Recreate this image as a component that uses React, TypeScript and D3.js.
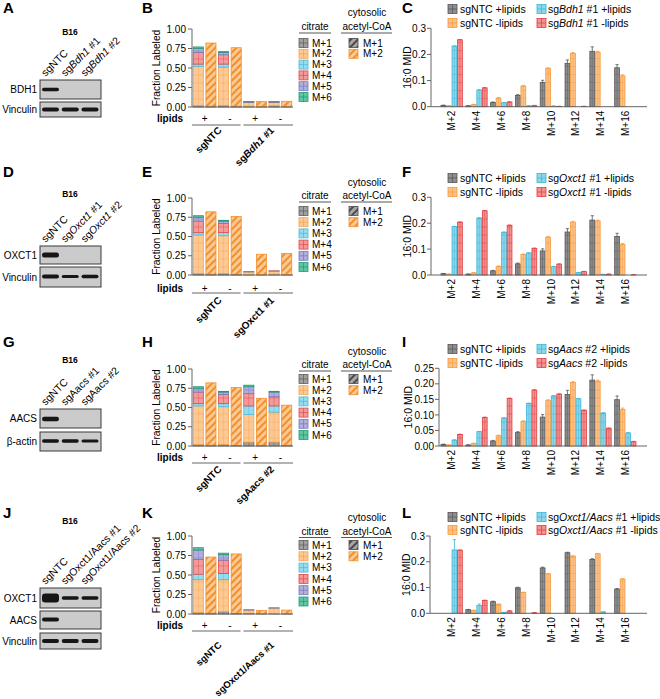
import React from 'react';
import * as d3 from 'd3';

const FONT = "'Liberation Sans', Arial, Helvetica, sans-serif";

// ---------------- data ----------------
const citrateIsotopologues = ['M+1', 'M+2', 'M+3', 'M+4', 'M+5', 'M+6'];
const acetylIsotopologues = ['M+1', 'M+2'];
const lipidsConditions = ['+', '-', '+', '-'];
const fractionTicks = [0, 0.25, 0.5, 0.75, 1.0];
const midIsotopologues = ['M+2', 'M+4', 'M+6', 'M+8', 'M+10', 'M+12', 'M+14', 'M+16'];
const midTicks03 = [0, 0.1, 0.2, 0.3];
const midTicks025 = [0, 0.05, 0.1, 0.15, 0.2, 0.25];

// stacked citrate (M+1..M+6) per condition: sgNTC+, sgNTC-, sgX+, sgX-
const citrateB = [
  [0.02, 0.5, 0.03, 0.15, 0.05, 0.02],
  [0.02, 0.49, 0.04, 0.12, 0.03, 0.01],
  [0.01, 0.05, 0.003, 0.002, 0.001, 0.001],
  [0.015, 0.045, 0.003, 0.002, 0.001, 0.001],
];
const acetylB = [[0.01, 0.81], [0.01, 0.75], [0.005, 0.065], [0.005, 0.068]];

const citrateE = [
  [0.02, 0.5, 0.03, 0.15, 0.05, 0.02],
  [0.02, 0.49, 0.04, 0.12, 0.03, 0.01],
  [0.005, 0.035, 0.002, 0.001, 0.0, 0.0],
  [0.01, 0.04, 0.002, 0.001, 0.0, 0.0],
];
const acetylE = [[0.01, 0.81], [0.01, 0.75], [0.005, 0.265], [0.005, 0.275]];

const citrateH = [
  [0.02, 0.5, 0.03, 0.15, 0.05, 0.02],
  [0.02, 0.49, 0.04, 0.12, 0.03, 0.01],
  [0.05, 0.36, 0.11, 0.16, 0.09, 0.02],
  [0.05, 0.39, 0.08, 0.12, 0.06, 0.01],
];
const acetylH = [[0.01, 0.81], [0.01, 0.75], [0.01, 0.61], [0.01, 0.52]];

const citrateK = [
  [0.02, 0.42, 0.07, 0.19, 0.12, 0.03],
  [0.03, 0.41, 0.08, 0.17, 0.07, 0.02],
  [0.01, 0.04, 0.002, 0.001, 0.0, 0.0],
  [0.005, 0.07, 0.002, 0.001, 0.0, 0.0],
];
const acetylK = [[0.01, 0.72], [0.01, 0.76], [0.005, 0.04], [0.005, 0.045]];

// 16:0 MID
const ntcPlusMID = [0.005, 0.003, 0.016, 0.043, 0.093, 0.166, 0.212, 0.149];
const ntcPlusErr = [0.001, 0.001, 0.002, 0.003, 0.008, 0.013, 0.017, 0.012];
const ntcMinusMID = [0.003, 0.008, 0.033, 0.079, 0.146, 0.204, 0.209, 0.118];
const ntcMinusErr = [0.001, 0.001, 0.002, 0.002, 0.003, 0.003, 0.003, 0.004];
const bdh1PlusMID = [0.232, 0.064, 0.015, 0.003, 0.002, 0.0, 0.0, 0.0];
const bdh1MinusMID = [0.256, 0.072, 0.018, 0.004, 0.001, 0.001, 0.0, 0.0];
const oxct1PlusMID = [0.187, 0.22, 0.165, 0.085, 0.032, 0.009, 0.002, 0.0];
const oxct1MinusMID = [0.204, 0.248, 0.192, 0.103, 0.042, 0.013, 0.003, 0.001];
const aacsPlusMID = [0.019, 0.046, 0.09, 0.137, 0.161, 0.152, 0.106, 0.042];
const aacsMinusMID = [0.037, 0.092, 0.153, 0.18, 0.167, 0.115, 0.057, 0.014];
const smallErr = [0.001, 0.001, 0.001, 0.001, 0.001, 0.001, 0.001, 0.001];
const ntcPlusMID_L = [0.0, 0.014, 0.045, 0.099, 0.176, 0.235, 0.209, 0.094];
const ntcPlusErr_L = [0.0, 0.001, 0.002, 0.002, 0.003, 0.002, 0.003, 0.002];
const ntcMinusMID_L = [0.0, 0.011, 0.035, 0.081, 0.153, 0.222, 0.231, 0.133];
const dkoPlusMID = [0.246, 0.03, 0.003, 0.0, 0.0, 0.0, 0.005, 0.0];
const dkoPlusErr = [0.04, 0.006, 0.001, 0.0, 0.0, 0.0, 0.001, 0.0];
const dkoMinusMID = [0.245, 0.05, 0.009, 0.002, 0.0, 0.0, 0.0, 0.0];

// western blots: band thickness per lane (0 = absent)
const lanesA = ['sgNTC', 'sg*Bdh1* #1', 'sg*Bdh1* #2'];
const lanesD = ['sgNTC', 'sg*Oxct1* #1', 'sg*Oxct1* #2'];
const lanesG = ['sgNTC', 'sgAacs #1', 'sgAacs #2'];
const lanesJ = ['sgNTC', 'sgOxct1/Aacs #1', 'sgOxct1/Aacs #2'];
const bdh1Bands = [0.9, 0, 0];
const vinculinBandsA = [1, 1, 1];
const oxct1BandsD = [1.2, 0, 0];
const vinculinBandsD = [1, 0.8, 0.9];
const aacsBandsG = [1.1, 0, 0];
const actinBandsG = [0.9, 0.85, 0.75];
const oxct1BandsJ = [2.4, 0.9, 0.9];
const aacsBandsJ = [1, 0, 0];
const vinculinBandsJ = [1, 1, 1];

// ---------------- styles ----------------
const STACK = [
  { fill: '#a0a0a0', line: '#5c5c5c' },
  { fill: '#fcc893', line: '#f6a552' },
  { fill: '#97dbee', line: '#45bde0' },
  { fill: '#f39b9b', line: '#e24848' },
  { fill: '#b0aedb', line: '#7a78bf' },
  { fill: '#5fc6a3', line: '#239a74' },
];
const HATCH = [
  { fill: '#a6a6a6', line: '#4a4a4a' },
  { fill: '#fcc893', line: '#f0902c' },
];
const MIDC = [
  { fill: '#8e8e8e', line: '#555555' },
  { fill: '#fcc089', line: '#f59b3b' },
  { fill: '#8dd6ea', line: '#3bb5d6' },
  { fill: '#f29292', line: '#e03d3d' },
];
const AXIS = '#666';

const rich = (s: string) =>
  s.split('*').map((p, i) => (
    <tspan key={i} fontStyle={i % 2 ? 'italic' : 'normal'}>{p}</tspan>
  ));

function GridBar({ x, y, w, h, base, c, step = 8 }: any) {
  if (!(h > 0)) return null;
  const hl: number[] = [];
  for (let yy = base - step; yy > y + 0.8; yy -= step) if (yy < y + h - 0.8) hl.push(yy);
  return (
    <g>
      <rect x={x} y={y} width={w} height={h} fill={c.fill} stroke={c.line} strokeWidth={0.8} />
      {h > 1.5 && (
        <line x1={x + w / 2} x2={x + w / 2} y1={y} y2={y + h} stroke={c.line} strokeWidth={0.6} opacity={0.75} />
      )}
      {hl.map((v, i) => (
        <line key={i} x1={x} x2={x + w} y1={v} y2={v} stroke={c.line} strokeWidth={0.6} opacity={0.75} />
      ))}
    </g>
  );
}

function GridSwatch({ x, y, c }: any) {
  return (
    <g>
      <rect x={x} y={y} width={9} height={9} fill={c.fill} stroke={c.line} strokeWidth={0.8} />
      <line x1={x + 4.5} x2={x + 4.5} y1={y} y2={y + 9} stroke={c.line} strokeWidth={0.7} />
      <line x1={x} x2={x + 9} y1={y + 4.5} y2={y + 4.5} stroke={c.line} strokeWidth={0.7} />
    </g>
  );
}

// ---------------- blots ----------------
function Blot({ letter, letterY, titleY, lanes, rows }: any) {
  const laneX = d3.scalePoint<number>().domain(d3.range(3)).range([50.5, 90]);
  const bx0 = 40;
  const bx1 = 101;
  const top = rows[0].top;
  return (
    <g>
      <text x={3} y={letterY} fontSize={15} fontWeight="bold">{letter}</text>
      <text x={70} y={titleY} fontSize={8.5} fontWeight="bold" textAnchor="middle">B16</text>
      {lanes.map((l: string, i: number) => (
        <text key={i} transform={`translate(${laneX(i)! - 5},${top - 3}) rotate(-45)`} fontSize={10.5}>
          {rich(l)}
        </text>
      ))}
      {rows.map((r: any, j: number) => (
        <g key={j}>
          <rect x={bx0} y={r.top} width={bx1 - bx0} height={r.bottom - r.top} fill="#cbcbcb" stroke="#3a3a3a" strokeWidth={1} />
          <text x={37} y={(r.top + r.bottom) / 2 + 3.6} fontSize={10} textAnchor="end">{rich(r.label)}</text>
          {r.bands.map((b: number, i: number) =>
            b > 0 ? (
              <rect
                key={i}
                x={laneX(i)! - 8.5}
                y={r.bandY - (r.bandH * b) / 2}
                width={17}
                height={r.bandH * b}
                rx={Math.min(3, (r.bandH * b) / 2)}
                fill="#161616"
                filter="url(#blur)"
              />
            ) : null
          )}
        </g>
      ))}
    </g>
  );
}

// ---------------- stacked panels ----------------
function StackPanel({ L, letter, citrate, acetyl, groups }: any) {
  const x = d3.scaleBand<number>().domain(d3.range(8)).range([192, 293]).paddingInner(0.2).paddingOuter(0.1);
  const y = d3.scaleLinear().domain([0, 1]).range([L.y0, L.yTop]);
  const bw = x.bandwidth();
  const bars: any[] = [];
  citrate.forEach((segs: number[], k: number) => {
    const xi = x(2 * k)!;
    let acc = 0;
    segs.forEach((v, s) => {
      const y1 = y(acc);
      const y2 = y(acc + v);
      acc += v;
      bars.push(<GridBar key={`c${k}-${s}`} x={xi} y={y2} w={bw} h={y1 - y2} base={L.y0} c={STACK[s]} />);
    });
  });
  acetyl.forEach((segs: number[], k: number) => {
    const xi = x(2 * k + 1)!;
    let acc = 0;
    segs.forEach((v, s) => {
      const y1 = y(acc);
      const y2 = y(acc + v);
      acc += v;
      bars.push(
        <rect key={`a${k}-${s}`} x={xi} y={y2} width={bw} height={y1 - y2} fill={`url(#hatch${s})`} stroke={HATCH[s].line} strokeWidth={0.8} />
      );
    });
  });
  const pairC = (k: number) => (x(2 * k)! + x(2 * k + 1)! + bw) / 2;
  const groupC = (g: number) => (x(4 * g)! + x(4 * g + 3)! + bw) / 2;
  const midY = (L.y0 + L.yTop) / 2;
  const ang = L.grpAngle ?? -45;
  const gfs = L.grpFont ?? 10;
  return (
    <g>
      <text x={142} y={L.letterY} fontSize={15} fontWeight="bold">{letter}</text>
      {bars}
      <line x1={192} x2={192} y1={L.yTop} y2={L.y0} stroke={AXIS} strokeWidth={1} />
      <line x1={192} x2={293} y1={L.y0} y2={L.y0} stroke={AXIS} strokeWidth={1} />
      {fractionTicks.map((t) => (
        <g key={t}>
          <line x1={188} x2={192} y1={y(t)} y2={y(t)} stroke={AXIS} strokeWidth={1} />
          <text x={186} y={y(t) + 3.6} fontSize={10} textAnchor="end">{d3.format('.2f')(t)}</text>
        </g>
      ))}
      <text transform={`translate(160,${midY}) rotate(-90)`} fontSize={10.3} textAnchor="middle">Fraction Labeled</text>
      <text x={157} y={L.lipY + 3.6} fontSize={10} fontWeight="bold">lipids</text>
      {lipidsConditions.map((c, k) => (
        <text key={k} x={pairC(k)} y={L.lipY + 3.6} fontSize={10} textAnchor="middle">{c}</text>
      ))}
      <line x1={192} x2={240.5} y1={L.lineY} y2={L.lineY} stroke={AXIS} strokeWidth={1} />
      <line x1={243.5} x2={293} y1={L.lineY} y2={L.lineY} stroke={AXIS} strokeWidth={1} />
      {groups.map((g: string, i: number) => (
        <text key={i} transform={`translate(${groupC(i) + 5 + i * 2},${L.grpY}) rotate(${ang})`} fontSize={gfs} fontWeight="bold" textAnchor="end">
          {rich(g)}
        </text>
      ))}
      {/* citrate legend */}
      <text x={315} y={L.citY} fontSize={10} textAnchor="middle">citrate</text>
      <line x1={299} x2={331} y1={L.ulY} y2={L.ulY} stroke="#444" strokeWidth={0.9} />
      {citrateIsotopologues.map((m, i) => {
        const cy = L.rowY + i * L.rowStep;
        return (
          <g key={m}>
            <GridSwatch x={299} y={cy - 4.5} c={STACK[i]} />
            <text x={312} y={cy + 3.6} fontSize={10}>{m}</text>
          </g>
        );
      })}
      {/* acetyl legend */}
      <text x={367} y={L.cytoY} fontSize={10} textAnchor="middle">cytosolic</text>
      <text x={367} y={L.citY} fontSize={10} textAnchor="middle">acetyl-CoA</text>
      <line x1={341} x2={392} y1={L.ulY} y2={L.ulY} stroke="#444" strokeWidth={0.9} />
      {acetylIsotopologues.map((m, i) => {
        const cy = L.rowY + i * L.rowStep;
        return (
          <g key={m}>
            <rect x={349} y={cy - 4.5} width={9} height={9} fill={`url(#hatch${i})`} stroke={HATCH[i].line} strokeWidth={0.8} />
            <text x={363} y={cy + 3.6} fontSize={10}>{m}</text>
          </g>
        );
      })}
    </g>
  );
}

// ---------------- MID panels ----------------
function MidPanel({ L, letter, series, errors, legend }: any) {
  const ticks = L.max > 0.28 ? midTicks03 : midTicks025;
  const fmt = d3.format(L.max > 0.28 ? '.1f' : '.2f');
  const x0 = d3.scaleBand<string>().domain(midIsotopologues).range([441, 636]).paddingInner(0.14);
  const x1 = d3.scaleBand<number>().domain(d3.range(4)).range([0, x0.bandwidth()]).paddingInner(0.13);
  const y = d3.scaleLinear().domain([0, L.max]).range([L.y0, L.yTop]);
  const bw = x1.bandwidth();
  const midY = (L.y0 + L.yTop) / 2;
  return (
    <g>
      <text x={402} y={L.letterY} fontSize={15} fontWeight="bold">{letter}</text>
      {series.map((vals: number[], s: number) =>
        vals.map((v, g) => {
          const bx = x0(midIsotopologues[g])! + x1(s)!;
          const top = y(v);
          const e = errors[s][g];
          return (
            <g key={`${s}-${g}`}>
              <GridBar x={bx} y={top} w={bw} h={L.y0 - top} base={L.y0} c={MIDC[s]} />
              {e > 0 && v > 0 && (
                <g stroke={MIDC[s].line} strokeWidth={0.8}>
                  <line x1={bx + bw / 2} x2={bx + bw / 2} y1={top} y2={y(v + e)} />
                  <line x1={bx + bw / 2 - 1.6} x2={bx + bw / 2 + 1.6} y1={y(v + e)} y2={y(v + e)} />
                </g>
              )}
            </g>
          );
        })
      )}
      <line x1={L.axisX} x2={L.axisX} y1={L.yTop} y2={L.y0} stroke={AXIS} strokeWidth={1} />
      <line x1={L.axisX} x2={647} y1={L.y0} y2={L.y0} stroke={AXIS} strokeWidth={1} />
      {ticks.map((t) => (
        <g key={t}>
          <line x1={L.axisX - 4} x2={L.axisX} y1={y(t)} y2={y(t)} stroke={AXIS} strokeWidth={1} />
          <text x={L.axisX - 5} y={y(t) + 3.6} fontSize={10} textAnchor="end">{fmt(t)}</text>
        </g>
      ))}
      <text transform={`translate(${L.labelX},${midY}) rotate(-90)`} fontSize={10.5} textAnchor="middle">16:0 MID</text>
      {midIsotopologues.map((m) => (
        <text key={m} transform={`translate(${x0(m)! + x0.bandwidth() / 2 + 3.6},${L.y0 + 4}) rotate(-90)`} fontSize={10} textAnchor="end">
          {m}
        </text>
      ))}
      {legend.map((lab: string, i: number) => {
        const col = i < 2 ? 0 : 1;
        const row = i % 2;
        const sx = col === 0 ? 448 : 537;
        const tx = col === 0 ? 460 : 548;
        const cy = L.legY[row];
        const c = MIDC[col === 0 ? row : 2 + row];
        return (
          <g key={i}>
            <GridSwatch x={sx} y={cy - 4.5} c={c} />
            <text x={tx} y={cy + 3.8} fontSize={10.5}>{rich(lab)}</text>
          </g>
        );
      })}
    </g>
  );
}

const LB = { yTop: 29, y0: 107, lipY: 118, lineY: 125, grpY: 131, cytoY: 16, citY: 30, ulY: 33, rowY: 43, rowStep: 10.8, letterY: 13 };
const LE = { yTop: 198, y0: 275, lipY: 288, lineY: 293, grpY: 301, cytoY: 186, citY: 199, ulY: 202, rowY: 211, rowStep: 11.2, letterY: 177 };
const LH = { yTop: 369, y0: 446, lipY: 457, lineY: 463, grpY: 470, cytoY: 355, citY: 368, ulY: 371, rowY: 379, rowStep: 11.2, letterY: 347 };
const LK = { yTop: 536, y0: 614, lipY: 625, lineY: 631, grpY: 646, grpAngle: -42, grpFont: 9.5, cytoY: 521, citY: 535, ulY: 537.5, rowY: 545, rowStep: 11.3, letterY: 518 };

const LC = { axisX: 431, yTop: 28.3, y0: 106.7, max: 0.3, legY: [9, 23], letterY: 13, labelX: 411 };
const LF = { axisX: 431, yTop: 197.3, y0: 275, max: 0.3, legY: [178, 192], letterY: 177, labelX: 411 };
const LI = { axisX: 439, yTop: 368.3, y0: 446, max: 0.25, legY: [349, 363], letterY: 347, labelX: 412 };
const LL = { axisX: 430, yTop: 536, y0: 613.3, max: 0.3, legY: [517, 530], letterY: 518, labelX: 410 };

export default function App() {
  return (
    <svg width={660} height={699} style={{ position: 'absolute', left: 0, top: 0, background: '#fff' }} fontFamily={FONT}>
      <defs>
        <filter id="blur" x="-20%" y="-50%" width="140%" height="200%">
          <feGaussianBlur stdDeviation="0.55" />
        </filter>
        {HATCH.map((h, i) => (
          <pattern key={i} id={`hatch${i}`} patternUnits="userSpaceOnUse" width={5} height={5} patternTransform="rotate(45)">
            <rect width={5} height={5} fill={h.fill} />
            <rect width={2} height={5} fill={h.line} />
          </pattern>
        ))}
      </defs>
      <rect width={660} height={699} fill="#fff" />

      <Blot
        letter="A" letterY={13} titleY={35} lanes={lanesA}
        rows={[
          { label: 'BDH1', top: 80, bottom: 99, bandY: 89.5, bandH: 3.8, bands: bdh1Bands },
          { label: 'Vinculin', top: 102, bottom: 117, bandY: 109.5, bandH: 4, bands: vinculinBandsA },
        ]}
      />
      <Blot
        letter="D" letterY={177} titleY={197} lanes={lanesD}
        rows={[
          { label: 'OXCT1', top: 246, bottom: 264, bandY: 255, bandH: 4.2, bands: oxct1BandsD },
          { label: 'Vinculin', top: 267, bottom: 287, bandY: 276.5, bandH: 4, bands: vinculinBandsD },
        ]}
      />
      <Blot
        letter="G" letterY={347} titleY={363} lanes={lanesG}
        rows={[
          { label: 'AACS', top: 409, bottom: 428, bandY: 419, bandH: 4, bands: aacsBandsG },
          { label: 'β-actin', top: 432, bottom: 451, bandY: 441, bandH: 4, bands: actinBandsG },
        ]}
      />
      <Blot
        letter="J" letterY={518} titleY={524} lanes={lanesJ}
        rows={[
          { label: 'OXCT1', top: 588, bottom: 608, bandY: 598, bandH: 3.8, bands: oxct1BandsJ },
          { label: 'AACS', top: 611, bottom: 629, bandY: 619.5, bandH: 4, bands: aacsBandsJ },
          { label: 'Vinculin', top: 633, bottom: 649, bandY: 641, bandH: 4, bands: vinculinBandsJ },
        ]}
      />

      <StackPanel L={LB} letter="B" citrate={citrateB} acetyl={acetylB} groups={['sgNTC', 'sg*Bdh1* #1']} />
      <StackPanel L={LE} letter="E" citrate={citrateE} acetyl={acetylE} groups={['sgNTC', 'sgOxct1 #1']} />
      <StackPanel L={LH} letter="H" citrate={citrateH} acetyl={acetylH} groups={['sgNTC', 'sgAacs #2']} />
      <StackPanel L={LK} letter="K" citrate={citrateK} acetyl={acetylK} groups={['sgNTC', 'sgOxct1/Aacs #1']} />

      <MidPanel
        L={LC} letter="C"
        series={[ntcPlusMID, ntcMinusMID, bdh1PlusMID, bdh1MinusMID]}
        errors={[ntcPlusErr, ntcMinusErr, smallErr, smallErr]}
        legend={['sgNTC +lipids', 'sgNTC -lipids', 'sg*Bdh1* #1 +lipids', 'sg*Bdh1* #1 -lipids']}
      />
      <MidPanel
        L={LF} letter="F"
        series={[ntcPlusMID, ntcMinusMID, oxct1PlusMID, oxct1MinusMID]}
        errors={[ntcPlusErr, ntcMinusErr, smallErr, smallErr]}
        legend={['sgNTC +lipids', 'sgNTC -lipids', 'sg*Oxct1* #1 +lipids', 'sg*Oxct1* #1 -lipids']}
      />
      <MidPanel
        L={LI} letter="I"
        series={[ntcPlusMID, ntcMinusMID, aacsPlusMID, aacsMinusMID]}
        errors={[ntcPlusErr, ntcMinusErr, smallErr, smallErr]}
        legend={['sgNTC +lipids', 'sgNTC -lipids', 'sg*Aacs* #2 +lipids', 'sg*Aacs* #2 -lipids']}
      />
      <MidPanel
        L={LL} letter="L"
        series={[ntcPlusMID_L, ntcMinusMID_L, dkoPlusMID, dkoMinusMID]}
        errors={[ntcPlusErr_L, smallErr, dkoPlusErr, smallErr]}
        legend={['sgNTC +lipids', 'sgNTC -lipids', 'sg*Oxct1/Aacs* #1 +lipids', 'sg*Oxct1/Aacs* #1 -lipids']}
      />
    </svg>
  );
}
